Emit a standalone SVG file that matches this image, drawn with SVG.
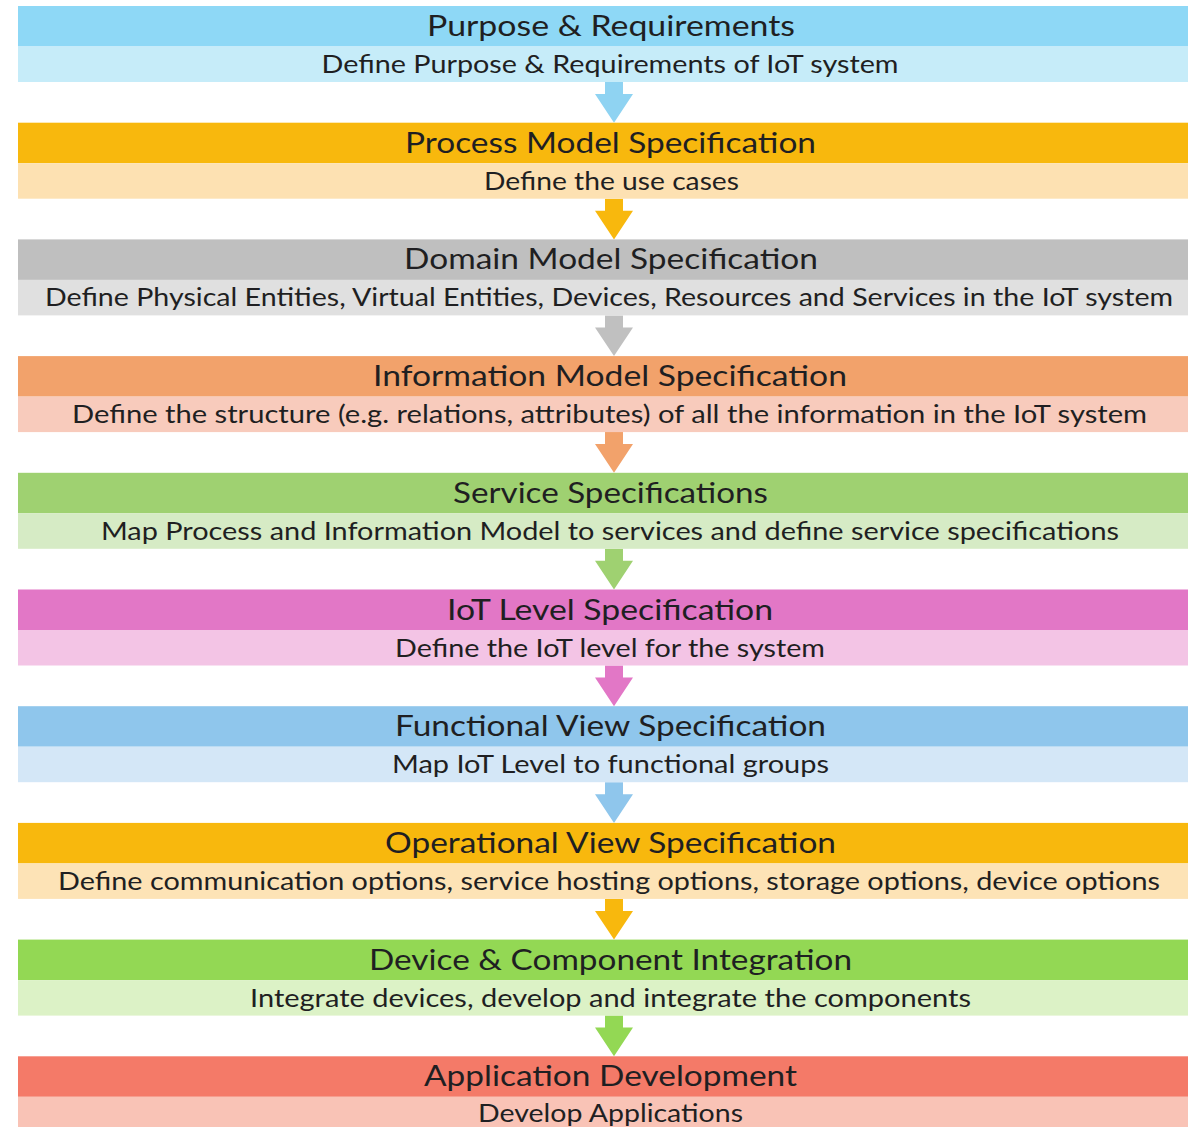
<svg xmlns="http://www.w3.org/2000/svg" width="1188" height="1127" viewBox="0 0 1188 1127">
<style>
.h{font-family:Lato,"Open Sans","Liberation Sans",sans-serif;font-size:29px;fill:#1f1f22;text-anchor:middle}
.s{font-family:Lato,"Open Sans","Liberation Sans",sans-serif;font-size:25px;fill:#1f1f22;text-anchor:middle}
</style>
<rect width="1188" height="1127" fill="#ffffff"/>
<g id="connectors">
<path d="M605 82h18v12h10l-19 28.7l-19-28.7h10z" fill="#8fd3f2"/>
<path d="M605 198.7h18v12h10l-19 28.7l-19-28.7h10z" fill="#f8b80d"/>
<path d="M605 315.4h18v12h10l-19 28.7l-19-28.7h10z" fill="#c0c0c0"/>
<path d="M605 432.1h18v12h10l-19 28.7l-19-28.7h10z" fill="#f2a26b"/>
<path d="M605 548.8h18v12h10l-19 28.7l-19-28.7h10z" fill="#9fd171"/>
<path d="M605 665.5h18v12h10l-19 28.7l-19-28.7h10z" fill="#e277c6"/>
<path d="M605 782.2h18v12h10l-19 28.7l-19-28.7h10z" fill="#8fc6ec"/>
<path d="M605 898.9h18v12h10l-19 28.7l-19-28.7h10z" fill="#f8b80d"/>
<path d="M605 1015.6h18v12h10l-19 28.7l-19-28.7h10z" fill="#93d854"/>
</g>
<g id="n1">
<rect x="18" y="6" width="1170" height="40.5" fill="#8ed8f6"/>
<rect x="18" y="46.5" width="1170" height="35.5" fill="#c6ecf9"/>
<text class="h" x="611" y="36" textLength="368" lengthAdjust="spacingAndGlyphs">Purpose &amp; Requirements</text>
<text class="s" x="610" y="73" textLength="577" lengthAdjust="spacingAndGlyphs">Define Purpose &amp; Requirements of IoT system</text>
</g>
<g id="n2">
<rect x="18" y="122.7" width="1170" height="40.5" fill="#f8b80d"/>
<rect x="18" y="163.2" width="1170" height="35.5" fill="#fde1b2"/>
<text class="h" x="610.5" y="152.7" textLength="411" lengthAdjust="spacingAndGlyphs">Process Model Specification</text>
<text class="s" x="611.5" y="189.7" textLength="255" lengthAdjust="spacingAndGlyphs">Define the use cases</text>
</g>
<g id="n3">
<rect x="18" y="239.4" width="1170" height="40.5" fill="#bfbfbf"/>
<rect x="18" y="279.9" width="1170" height="35.5" fill="#e0e0e0"/>
<text class="h" x="611" y="269.4" textLength="414" lengthAdjust="spacingAndGlyphs">Domain Model Specification</text>
<text class="s" x="609" y="306.4" textLength="1128" lengthAdjust="spacingAndGlyphs">Define Physical Entities, Virtual Entities, Devices, Resources and Services in the IoT system</text>
</g>
<g id="n4">
<rect x="18" y="356.1" width="1170" height="40.5" fill="#f2a26b"/>
<rect x="18" y="396.6" width="1170" height="35.5" fill="#f8cbbc"/>
<text class="h" x="610" y="386.1" textLength="474" lengthAdjust="spacingAndGlyphs">Information Model Specification</text>
<text class="s" x="609.5" y="423.1" textLength="1075" lengthAdjust="spacingAndGlyphs">Define the structure (e.g. relations, attributes) of all the information in the IoT system</text>
</g>
<g id="n5">
<rect x="18" y="472.8" width="1170" height="40.5" fill="#9fd171"/>
<rect x="18" y="513.3" width="1170" height="35.5" fill="#d6ebc5"/>
<text class="h" x="610.5" y="502.8" textLength="315" lengthAdjust="spacingAndGlyphs">Service Specifications</text>
<text class="s" x="610" y="539.8" textLength="1018" lengthAdjust="spacingAndGlyphs">Map Process and Information Model to services and define service specifications</text>
</g>
<g id="n6">
<rect x="18" y="589.5" width="1170" height="40.5" fill="#e277c6"/>
<rect x="18" y="630" width="1170" height="35.5" fill="#f3c4e5"/>
<text class="h" x="610" y="619.5" textLength="326" lengthAdjust="spacingAndGlyphs">IoT Level Specification</text>
<text class="s" x="610" y="656.5" textLength="430" lengthAdjust="spacingAndGlyphs">Define the IoT level for the system</text>
</g>
<g id="n7">
<rect x="18" y="706.2" width="1170" height="40.5" fill="#8fc6ec"/>
<rect x="18" y="746.7" width="1170" height="35.5" fill="#d4e7f7"/>
<text class="h" x="610.5" y="736.2" textLength="431" lengthAdjust="spacingAndGlyphs">Functional View Specification</text>
<text class="s" x="610.5" y="773.2" textLength="437" lengthAdjust="spacingAndGlyphs">Map IoT Level to functional groups</text>
</g>
<g id="n8">
<rect x="18" y="822.9" width="1170" height="40.5" fill="#f8b80d"/>
<rect x="18" y="863.4" width="1170" height="35.5" fill="#fde3b6"/>
<text class="h" x="610.5" y="852.9" textLength="451" lengthAdjust="spacingAndGlyphs">Operational View Specification</text>
<text class="s" x="609" y="889.9" textLength="1102" lengthAdjust="spacingAndGlyphs">Define communication options, service hosting options, storage options, device options</text>
</g>
<g id="n9">
<rect x="18" y="939.6" width="1170" height="40.5" fill="#93d854"/>
<rect x="18" y="980.1" width="1170" height="35.5" fill="#dcf2c6"/>
<text class="h" x="610.5" y="969.6" textLength="483" lengthAdjust="spacingAndGlyphs">Device &amp; Component Integration</text>
<text class="s" x="610.5" y="1006.6" textLength="721" lengthAdjust="spacingAndGlyphs">Integrate devices, develop and integrate the components</text>
</g>
<g id="n10">
<rect x="18" y="1056.3" width="1170" height="40.5" fill="#f47a68"/>
<rect x="18" y="1096.8" width="1170" height="35.5" fill="#f9c3b6"/>
<text class="h" x="610.5" y="1086.3" textLength="373" lengthAdjust="spacingAndGlyphs">Application Development</text>
<text class="s" x="610.5" y="1122.3" textLength="265" lengthAdjust="spacingAndGlyphs">Develop Applications</text>
</g>
</svg>
